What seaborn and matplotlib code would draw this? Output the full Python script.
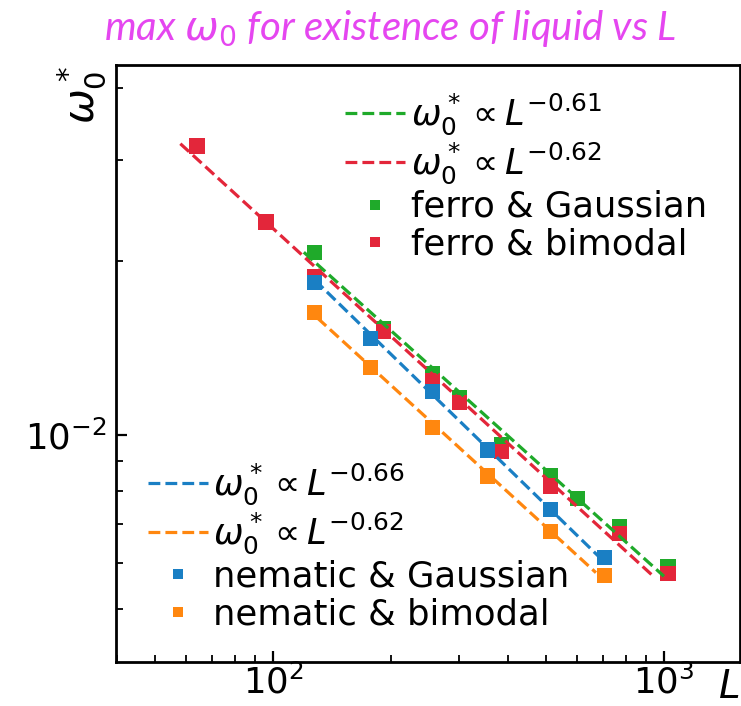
import numpy as np
import pandas as pd
import matplotlib
matplotlib.use("Agg")
import matplotlib.pyplot as plt
from matplotlib.lines import Line2D
from matplotlib.ticker import LogLocator, NullFormatter
import seaborn as sns

# ---------------- data ----------------
series_names = ["ferro & Gaussian", "ferro & bimodal",
                "nematic & Gaussian", "nematic & bimodal"]
L_ferro_gauss = [128, 192, 256, 300, 384, 512, 600, 768, 1024]
w_ferro_gauss = [0.0207, 0.0153, 0.0128, 0.0116, 0.00963, 0.00849, 0.00776, 0.00693, 0.00591]
L_ferro_bimodal = [64, 96, 128, 192, 256, 300, 384, 512, 768, 1024]
w_ferro_bimodal = [0.0317, 0.0234, 0.0188, 0.0151, 0.0124, 0.0114, 0.00935, 0.00816, 0.00675, 0.00575]
L_nem_gauss = [128, 178, 256, 354, 512, 704]
w_nem_gauss = [0.0184, 0.0147, 0.0119, 0.00942, 0.00743, 0.00613]
L_nem_bimodal = [128, 178, 256, 354, 512, 704]
w_nem_bimodal = [0.0163, 0.0131, 0.0103, 0.00849, 0.00680, 0.00571]
fit_exponents = [-0.61, -0.62, -0.66, -0.62]
fit_L_start = [120, 58, 128, 130]
fit_L_end = [1000, 940, 700, 670]
colors = ["#1faa2a", "#e3263a", "#1a7fc4", "#ff870f"]
title_text = "max $\\omega_0$ for existence of liquid vs L"

# ---------------- figure ----------------
sns.set_style("ticks")
plt.rcParams["font.family"] = ["DejaVu Sans"]
plt.rcParams["mathtext.fontset"] = "dejavusans"
plt.rcParams["text.color"] = "black"
plt.rcParams["axes.labelcolor"] = "black"

fig = plt.figure(figsize=(7.41, 7.06), dpi=100)
ax = fig.add_axes([0.1565, 0.0623, 0.8422, 0.8457])

Ls = [L_ferro_gauss, L_ferro_bimodal, L_nem_gauss, L_nem_bimodal]
ws = [w_ferro_gauss, w_ferro_bimodal, w_nem_gauss, w_nem_bimodal]

# markers
for name, L, w, c in zip(series_names, Ls, ws, colors):
    df = pd.DataFrame({"L": L, "w": w})
    sns.scatterplot(data=df, x="L", y="w", ax=ax, marker="s", s=120,
                    color=c, edgecolor="none", linewidth=0, zorder=3)

# power-law fit lines (prefactor from a fixed-slope least-squares fit)
for L, w, b, c, x0, x1 in zip(Ls, ws, fit_exponents, colors, fit_L_start, fit_L_end):
    L = np.asarray(L, float)
    w = np.asarray(w, float)
    loga = np.mean(np.log10(w) - b * np.log10(L))
    xs = np.geomspace(x0, x1, 50)
    ys = 10 ** loga * xs ** b
    sns.lineplot(x=xs, y=ys, ax=ax, color=c, linestyle="--", linewidth=2.3,
                 zorder=4, sort=False, estimator=None)

ax.set_xscale("log")
ax.set_yscale("log")
ax.set_xlim(39.7, 1565)
ax.set_ylim(0.00404, 0.0438)

ax.xaxis.set_major_locator(LogLocator(base=10, numticks=10))
ax.xaxis.set_minor_locator(LogLocator(base=10, subs=np.arange(2, 10), numticks=20))
ax.yaxis.set_major_locator(LogLocator(base=10, numticks=10))
ax.yaxis.set_minor_locator(LogLocator(base=10, subs=np.arange(2, 10), numticks=20))
ax.xaxis.set_minor_formatter(NullFormatter())
ax.yaxis.set_minor_formatter(NullFormatter())

ax.tick_params(which="both", direction="in", top=False, right=False,
               labelsize=25.5, colors="black")
ax.tick_params(which="major", length=8, width=1.6)
ax.tick_params(axis="x", which="major", pad=2)
ax.tick_params(axis="y", which="major", pad=7)
ax.tick_params(which="minor", length=5, width=1.3)
for sp in ax.spines.values():
    sp.set_linewidth(2.0)
    sp.set_color("black")

ax.set_xlabel("$L$", fontsize=28)
ax.xaxis.set_label_coords(0.982, -0.01)
ax.xaxis.label.set_va("top")
ax.set_ylabel("$\\omega_0^*$", fontsize=30)
ax.yaxis.set_label_coords(-0.012, 0.95)

# legends
def line_h(c):
    return Line2D([], [], color=c, linestyle="--", linewidth=2.3)

def mark_h(c):
    return Line2D([], [], color=c, linestyle="none", marker="s",
                  markersize=7, markeredgewidth=0)

lab = lambda b: "$\\omega_0^*\\propto L^{%s}$" % ("%.2f" % b)
leg_kw = dict(frameon=False, fontsize=25.5, borderpad=0, borderaxespad=0,
              handlelength=1.7, handletextpad=0.15, labelspacing=0.1,
              labelcolor="black")

leg1 = ax.legend([line_h(colors[0]), line_h(colors[1]), mark_h(colors[0]), mark_h(colors[1])],
                 [lab(fit_exponents[0]), lab(fit_exponents[1]), series_names[0], series_names[1]],
                 loc="upper left", bbox_to_anchor=(0.367, 0.955), **leg_kw)
ax.add_artist(leg1)
ax.legend([line_h(colors[2]), line_h(colors[3]), mark_h(colors[2]), mark_h(colors[3])],
          [lab(fit_exponents[2]), lab(fit_exponents[3]), series_names[2], series_names[3]],
          loc="upper left", bbox_to_anchor=(0.051, 0.336), **leg_kw)

fig.text(0.527, 1 - 40 / 706, title_text, color="#e546f0", fontsize=29,
         style="italic", family=["Lato", "DejaVu Sans"], ha="center", va="baseline")

fig.savefig("out.png", dpi=100)
